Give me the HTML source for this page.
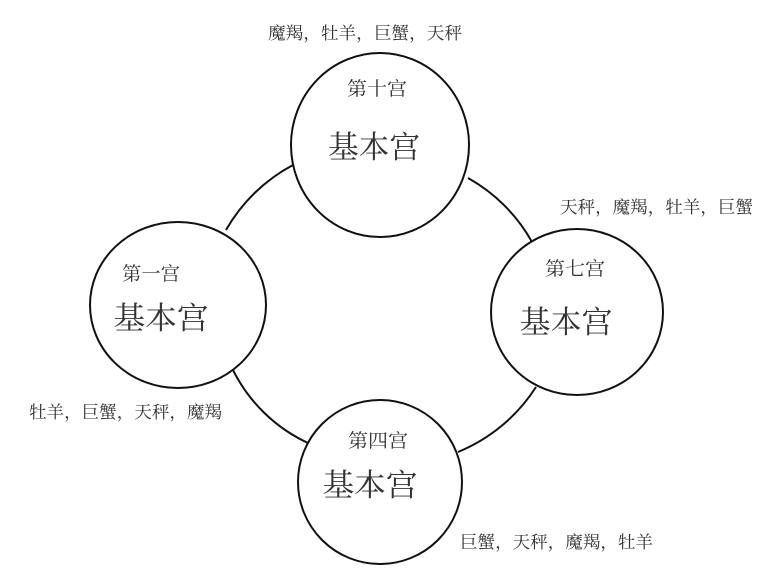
<!DOCTYPE html>
<html><head><meta charset="utf-8"><style>
html,body{margin:0;padding:0;background:#fff;}
svg{display:block;}
text{font-family:"Liberation Serif","Noto Serif CJK SC","Noto Sans CJK TC",serif;fill:#333;}
</style></head><body>
<svg width="781" height="577" viewBox="0 0 781 577" xmlns="http://www.w3.org/2000/svg">
<g fill="none" stroke="#111" stroke-width="2">
<path d="M226,230 A168,168 0 0 1 293,165"/>
<path d="M468,178 A165,165 0 0 1 532,242"/>
<path d="M536,387 A168,168 0 0 1 458,452"/>
<path d="M308,443 A158,158 0 0 1 233,370"/>
<ellipse cx="380" cy="145" rx="89" ry="92"/>
<ellipse cx="178" cy="305" rx="88" ry="83"/>
<ellipse cx="577" cy="312" rx="86" ry="83"/>
<ellipse cx="380" cy="482" rx="82" ry="82"/>
</g>
<g font-size="19" text-anchor="middle">
<text x="377" y="95" textLength="60" lengthAdjust="spacingAndGlyphs">第十宫</text>
<text x="151" y="280" textLength="58" lengthAdjust="spacingAndGlyphs">第一宫</text>
<text x="575" y="275" textLength="60" lengthAdjust="spacingAndGlyphs">第七宫</text>
<text x="378" y="447" textLength="60" lengthAdjust="spacingAndGlyphs">第四宫</text>
</g>
<g font-size="31" text-anchor="middle">
<text x="374" y="158" textLength="92" lengthAdjust="spacingAndGlyphs">基本宫</text>
<text x="161" y="329" textLength="95" lengthAdjust="spacingAndGlyphs">基本宫</text>
<text x="566" y="333" textLength="93" lengthAdjust="spacingAndGlyphs">基本宫</text>
<text x="370" y="496" textLength="95" lengthAdjust="spacingAndGlyphs">基本宫</text>
</g>
<g font-size="17">
<text x="268" y="39" textLength="194" lengthAdjust="spacingAndGlyphs">魔羯，牡羊，巨蟹，天秤</text>
<text x="560" y="213" textLength="193" lengthAdjust="spacingAndGlyphs">天秤，魔羯，牡羊，巨蟹</text>
<text x="29" y="418" textLength="193" lengthAdjust="spacingAndGlyphs">牡羊，巨蟹，天秤，魔羯</text>
<text x="460" y="548" textLength="193" lengthAdjust="spacingAndGlyphs">巨蟹，天秤，魔羯，牡羊</text>
</g>
</svg>
</body></html>
